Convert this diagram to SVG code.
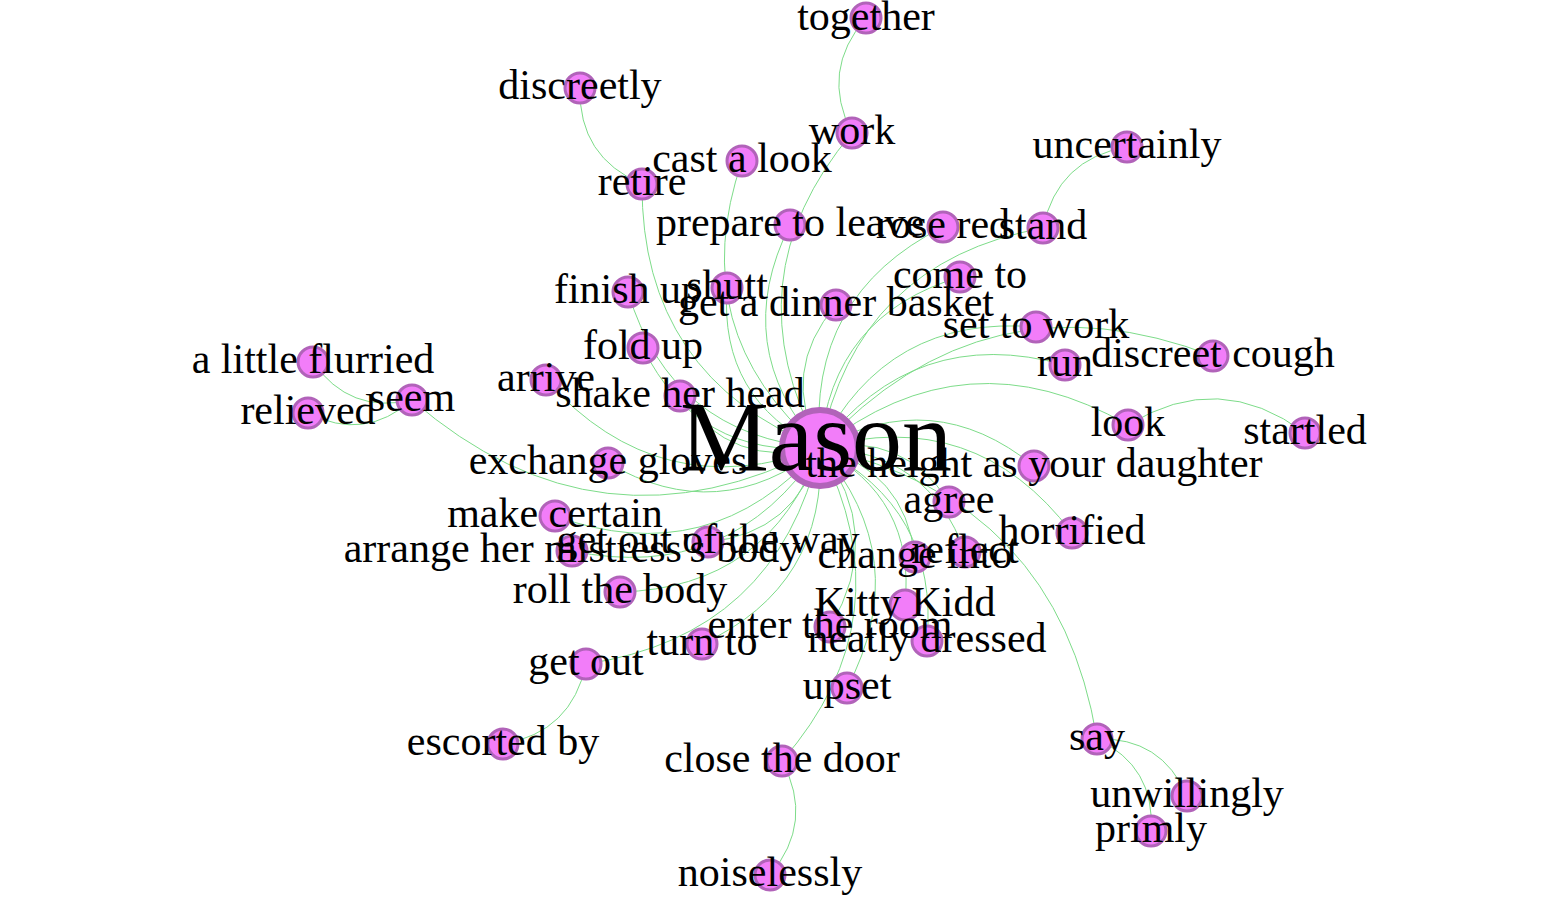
<svg xmlns="http://www.w3.org/2000/svg" width="1543" height="901" viewBox="0 0 1543 901">
<style>
.e{fill:none;stroke:#7ddc89;stroke-width:1}
.n{fill:#f27df9;stroke:#b163b9;stroke-width:3}
.m{fill:#f27df9;stroke:#b163b9;stroke-width:6}
.t{font-family:"Liberation Serif","Times New Roman",serif;font-size:42px;fill:#000;text-anchor:middle}
.tm{font-family:"Liberation Serif","Times New Roman",serif;font-size:100px;fill:#000;text-anchor:middle}
</style>
<rect width="1543" height="901" fill="#fff"/>
<g id="edges">
<path class="e" d="M852,133 Q728.9,279.6 820,448"/>
<path class="e" d="M742,161 Q683.4,331 820,448"/>
<path class="e" d="M642,184 Q641.2,376.5 820,448"/>
<path class="e" d="M790,225 Q729.2,346.7 820,448"/>
<path class="e" d="M943,227 Q806.4,295.7 820,448"/>
<path class="e" d="M1043,228 Q856.7,262.2 820,448"/>
<path class="e" d="M960,277 Q831.9,314.9 820,448"/>
<path class="e" d="M1036,327 Q886.9,314.1 820,448"/>
<path class="e" d="M1065,365 Q914.3,323.2 820,448"/>
<path class="e" d="M1213,356 Q985.2,268.4 820,448"/>
<path class="e" d="M1128,425 Q966.2,331.8 820,448"/>
<path class="e" d="M1034,466 Q933.1,384.2 820,448"/>
<path class="e" d="M1072,533 Q974.9,404.8 820,448"/>
<path class="e" d="M1097,739 Q1057.4,499.3 820,448"/>
<path class="e" d="M949,502 Q902.9,431.1 820,448"/>
<path class="e" d="M965,552 Q927.9,450.7 820,448"/>
<path class="e" d="M915,557 Q904.6,470.2 820,448"/>
<path class="e" d="M905,605 Q915.9,497.6 820,448"/>
<path class="e" d="M927,641 Q939.1,508.1 820,448"/>
<path class="e" d="M830,627 Q885.9,534.1 820,448"/>
<path class="e" d="M847,688 Q915.1,558.8 820,448"/>
<path class="e" d="M782,761 Q907.4,617.4 820,448"/>
<path class="e" d="M702,644 Q827.6,586.1 820,448"/>
<path class="e" d="M586,664 Q776.4,635.6 820,448"/>
<path class="e" d="M620,592 Q769,588 820,448"/>
<path class="e" d="M572,551 Q731,583.8 820,448"/>
<path class="e" d="M708,542 Q796,533.1 820,448"/>
<path class="e" d="M555,516 Q710.6,572.1 820,448"/>
<path class="e" d="M608,463 Q719.1,527.6 820,448"/>
<path class="e" d="M412,400 Q599.7,562.7 820,448"/>
<path class="e" d="M546,380 Q659.9,507.2 820,448"/>
<path class="e" d="M680,396 Q732.3,469.6 820,448"/>
<path class="e" d="M643,348 Q697.5,458.2 820,448"/>
<path class="e" d="M628,292 Q671,435.3 820,448"/>
<path class="e" d="M727,288 Q719.1,399.6 820,448"/>
<path class="e" d="M836,305 Q779.4,371.1 820,448"/>
<path class="e" d="M866,18 Q819.9,70.7 852,133"/>
<path class="e" d="M580,88 Q578.4,157.1 642,184"/>
<path class="e" d="M1127,147 Q1057.5,158.9 1043,228"/>
<path class="e" d="M1305,433 Q1219.2,368.8 1128,425"/>
<path class="e" d="M313,362 Q349.6,414.7 412,400"/>
<path class="e" d="M308,413 Q364.4,441.9 412,400"/>
<path class="e" d="M503,744 Q571.7,732.2 586,664"/>
<path class="e" d="M770,875 Q814.8,822.1 782,761"/>
<path class="e" d="M1187,796 Q1161.4,736.9 1097,739"/>
<path class="e" d="M1151,831 Q1155.3,766.6 1097,739"/>
</g>
<g id="node-together"><circle class="n" cx="866" cy="18" r="15"/></g>
<g id="node-discreetly"><circle class="n" cx="580" cy="88" r="15"/></g>
<g id="node-work"><circle class="n" cx="852" cy="133" r="15"/></g>
<g id="node-cast-a-look"><circle class="n" cx="742" cy="161" r="15"/></g>
<g id="node-retire"><circle class="n" cx="642" cy="184" r="15"/></g>
<g id="node-uncertainly"><circle class="n" cx="1127" cy="147" r="15"/></g>
<g id="node-prepare-to-leave"><circle class="n" cx="790" cy="225" r="15"/></g>
<g id="node-rose-red"><circle class="n" cx="943" cy="227" r="15"/></g>
<g id="node-stand"><circle class="n" cx="1043" cy="228" r="15"/></g>
<g id="node-come-to"><circle class="n" cx="960" cy="277" r="15"/></g>
<g id="node-finish-up"><circle class="n" cx="628" cy="292" r="15"/></g>
<g id="node-shutt"><circle class="n" cx="727" cy="288" r="15"/></g>
<g id="node-get-a-dinner-basket"><circle class="n" cx="836" cy="305" r="15"/></g>
<g id="node-set-to-work"><circle class="n" cx="1036" cy="327" r="15"/></g>
<g id="node-run"><circle class="n" cx="1065" cy="365" r="15"/></g>
<g id="node-discreet-cough"><circle class="n" cx="1213" cy="356" r="15"/></g>
<g id="node-fold-up"><circle class="n" cx="643" cy="348" r="15"/></g>
<g id="node-a-little-flurried"><circle class="n" cx="313" cy="362" r="15"/></g>
<g id="node-relieved"><circle class="n" cx="308" cy="413" r="15"/></g>
<g id="node-seem"><circle class="n" cx="412" cy="400" r="15"/></g>
<g id="node-arrive"><circle class="n" cx="546" cy="380" r="15"/></g>
<g id="node-shake-her-head"><circle class="n" cx="680" cy="396" r="15"/></g>
<g id="node-look"><circle class="n" cx="1128" cy="425" r="15"/></g>
<g id="node-startled"><circle class="n" cx="1305" cy="433" r="15"/></g>
<g id="node-exchange-gloves"><circle class="n" cx="608" cy="463" r="15"/></g>
<g id="node-the-height"><circle class="n" cx="1034" cy="466" r="15"/></g>
<g id="node-agree"><circle class="n" cx="949" cy="502" r="15"/></g>
<g id="node-horrified"><circle class="n" cx="1072" cy="533" r="15"/></g>
<g id="node-make-certain"><circle class="n" cx="555" cy="516" r="15"/></g>
<g id="node-arrange"><circle class="n" cx="572" cy="551" r="15"/></g>
<g id="node-get-out-of-the-way"><circle class="n" cx="708" cy="542" r="15"/></g>
<g id="node-change-into"><circle class="n" cx="915" cy="557" r="15"/></g>
<g id="node-reflect"><circle class="n" cx="965" cy="552" r="15"/></g>
<g id="node-roll-the-body"><circle class="n" cx="620" cy="592" r="15"/></g>
<g id="node-kitty-kidd"><circle class="n" cx="905" cy="605" r="15"/></g>
<g id="node-enter-the-room"><circle class="n" cx="830" cy="627" r="15"/></g>
<g id="node-neatly-dressed"><circle class="n" cx="927" cy="641" r="15"/></g>
<g id="node-turn-to"><circle class="n" cx="702" cy="644" r="15"/></g>
<g id="node-get-out"><circle class="n" cx="586" cy="664" r="15"/></g>
<g id="node-upset"><circle class="n" cx="847" cy="688" r="15"/></g>
<g id="node-say"><circle class="n" cx="1097" cy="739" r="15"/></g>
<g id="node-escorted-by"><circle class="n" cx="503" cy="744" r="15"/></g>
<g id="node-close-the-door"><circle class="n" cx="782" cy="761" r="15"/></g>
<g id="node-unwillingly"><circle class="n" cx="1187" cy="796" r="15"/></g>
<g id="node-primly"><circle class="n" cx="1151" cy="831" r="15"/></g>
<g id="node-noiselessly"><circle class="n" cx="770" cy="875" r="15"/></g>
<g id="node-mason"><circle class="m" cx="820" cy="448" r="38"/></g>
<g id="labels">
<text class="t" x="866" y="30">together</text>
<text class="t" x="580" y="99">discreetly</text>
<text class="t" x="852" y="144">work</text>
<text class="t" x="742" y="172">cast a look</text>
<text class="t" x="642" y="195">retire</text>
<text class="t" x="1127" y="158">uncertainly</text>
<text class="t" x="790" y="236">prepare to leave</text>
<text class="t" x="943" y="238">rose red</text>
<text class="t" x="1043" y="239">stand</text>
<text class="t" x="960" y="288">come to</text>
<text class="t" x="628" y="303">finish up</text>
<text class="t" x="727" y="299">shutt</text>
<text class="t" x="836" y="316">get a dinner basket</text>
<text class="t" x="1036" y="338">set to work</text>
<text class="t" x="1065" y="376">run</text>
<text class="t" x="1213" y="367">discreet cough</text>
<text class="t" x="643" y="359">fold up</text>
<text class="t" x="313" y="373">a little flurried</text>
<text class="t" x="308" y="424">relieved</text>
<text class="t" x="412" y="411">seem</text>
<text class="t" x="546" y="391">arrive</text>
<text class="t" x="680" y="407">shake her head</text>
<text class="t" x="1128" y="436">look</text>
<text class="t" x="1305" y="444">startled</text>
<text class="t" x="608" y="474">exchange gloves</text>
<text class="tm" x="816" y="470">Mason</text>
<text class="t" x="1034" y="477">the height as your daughter</text>
<text class="t" x="949" y="513">agree</text>
<text class="t" x="1072" y="544">horrified</text>
<text class="t" x="555" y="527">make certain</text>
<text class="t" x="572" y="562">arrange her mistress's body</text>
<text class="t" x="708" y="553">get out of the way</text>
<text class="t" x="915" y="568">change into</text>
<text class="t" x="965" y="563">reflect</text>
<text class="t" x="620" y="603">roll the body</text>
<text class="t" x="905" y="616">Kitty Kidd</text>
<text class="t" x="830" y="638">enter the room</text>
<text class="t" x="927" y="652">neatly dressed</text>
<text class="t" x="702" y="655">turn to</text>
<text class="t" x="586" y="675">get out</text>
<text class="t" x="847" y="699">upset</text>
<text class="t" x="1097" y="750">say</text>
<text class="t" x="503" y="755">escorted by</text>
<text class="t" x="782" y="772">close the door</text>
<text class="t" x="1187" y="807">unwillingly</text>
<text class="t" x="1151" y="842">primly</text>
<text class="t" x="770" y="886">noiselessly</text>
</g>
</svg>
